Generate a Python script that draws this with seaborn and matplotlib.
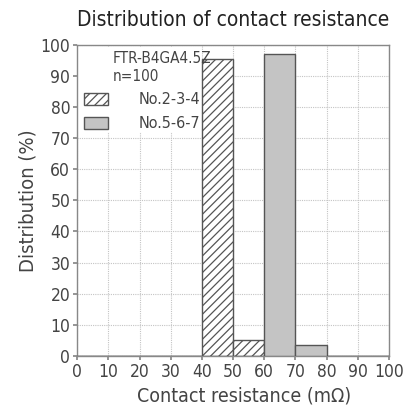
import numpy as np
import pandas as pd
import seaborn as sns
import matplotlib.pyplot as plt
import matplotlib.patches as mpatches

# data
bin_edges = [0, 10, 20, 30, 40, 50, 60, 70, 80, 90, 100]
series_a_bins = [40, 50]
series_a_vals = [95.5, 5.0]
series_b_bins = [60, 70]
series_b_vals = [97.0, 3.5]
series_names = ["No.2-3-4", "No.5-6-7"]
model_name = "FTR-B4GA4.5Z"
sample_text = "n=100"

sns.set_theme(style="white")
plt.rcParams["font.family"] = ["DejaVu Sans", "Noto Sans"]
plt.rcParams["font.stretch"] = "condensed"

df = pd.DataFrame({
    "left": series_a_bins + series_b_bins,
    "val": series_a_vals + series_b_vals,
    "series": [series_names[0]] * 2 + [series_names[1]] * 2,
})

edge = "#555555"
txt = "#444444"
plt.rcParams["hatch.color"] = edge
plt.rcParams["hatch.linewidth"] = 0.9

fig = plt.figure(figsize=(4.17, 4.09), dpi=100)
ax = fig.add_axes([0.185, 0.130, 0.748, 0.760])

for name, color in zip(series_names, ["white", "#c4c4c4"]):
    sub = df[df["series"] == name]
    sns.histplot(data=sub, x="left", weights="val", bins=bin_edges, ax=ax,
                 color=color, edgecolor=edge, linewidth=1.0, alpha=1, zorder=3)

# hatch the first series
for p in ax.patches:
    if p.get_x() in series_a_bins and p.get_height() > 0:
        p.set_hatch("////")
        p.set_facecolor("white")

ax.set_xlim(0, 100)
ax.set_ylim(0, 100)
ax.set_xticks(range(0, 101, 10))
ax.set_yticks(range(0, 101, 10))
ax.grid(True, color="#c4c4c4", linestyle=(0, (1, 1)), linewidth=0.8, zorder=0)
ax.set_axisbelow(True)
for s in ax.spines.values():
    s.set_color("#888888")
    s.set_linewidth(1.0)
ax.tick_params(axis="both", which="both", labelsize=12.5, colors="#888888",
               labelcolor=txt, length=3, direction="out", bottom=True, left=True, pad=2)
ax.set_xlabel("Contact resistance (mΩ)", fontsize=14, color=txt)
ax.xaxis.set_label_coords(0.535, -0.1, transform=ax.transAxes)
ax.xaxis.label.set_va("top")
ax.set_ylabel("Distribution (%)", fontsize=14.5, color=txt, labelpad=2)
ax.set_title("Distribution of contact resistance", fontsize=15, color="#222222", pad=14)

# white area behind the legend block
ax.add_patch(mpatches.Rectangle((0.3, 72), 39.5, 27.5, facecolor="white",
                                edgecolor="none", zorder=1))

h1 = mpatches.Patch(facecolor="white", edgecolor=edge, hatch="////", label=series_names[0])
h2 = mpatches.Patch(facecolor="#c4c4c4", edgecolor=edge, label=series_names[1])
leg = ax.legend(handles=[h1, h2], loc="upper left", bbox_to_anchor=(0.0, 0.868),
                frameon=False, fontsize=11.5, handlelength=1.55, handleheight=0.8,
                handletextpad=1.9, borderaxespad=0.0, labelspacing=0.55)
for t in leg.get_texts():
    t.set_color(txt)
ax.text(0.115, 0.982, model_name + "\n" + sample_text, transform=ax.transAxes,
        ha="left", va="top", fontsize=11, color=txt, linespacing=1.25, zorder=5)

fig.savefig("out.png", dpi=100)
